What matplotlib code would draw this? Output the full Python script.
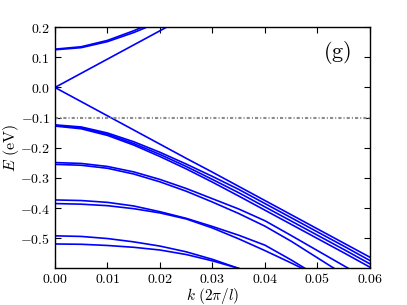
import numpy as np
import matplotlib
matplotlib.use("Agg")
import matplotlib.pyplot as plt
from matplotlib.ticker import FuncFormatter

plt.rcParams['mathtext.fontset'] = 'cm'
plt.rcParams['font.family'] = 'serif'
plt.rcParams['font.serif'] = ['DejaVu Serif']

#### DATA ####
k = [0.0, 0.005, 0.01, 0.015, 0.02, 0.025, 0.03, 0.035, 0.04, 0.045, 0.05, 0.055, 0.06]

# bands above zero
up_lin = [0.0, 0.047, 0.094, 0.141, 0.188, 0.235, 0.281, 0.328, 0.375, 0.422, 0.469, 0.516, 0.563]
up_1 = [0.125, 0.132, 0.152, 0.182, 0.218, 0.258, 0.300, 0.343, 0.388, 0.434, 0.480, 0.527, 0.574]
up_2 = [0.127, 0.135, 0.156, 0.188, 0.225, 0.266, 0.309, 0.354, 0.400, 0.446, 0.492, 0.539, 0.586]

# bands below zero
dn_lin = [0.0, -0.047, -0.094, -0.141, -0.188, -0.235, -0.281, -0.328, -0.375, -0.422, -0.469, -0.516, -0.563]
b_1 = [-0.124, -0.131, -0.151, -0.180, -0.215, -0.254, -0.295, -0.338, -0.385, -0.432, -0.479, -0.526, -0.574]
b_2 = [-0.126, -0.134, -0.155, -0.186, -0.222, -0.262, -0.305, -0.349, -0.396, -0.443, -0.490, -0.537, -0.585]
b_3 = [-0.128, -0.137, -0.159, -0.191, -0.229, -0.270, -0.314, -0.360, -0.407, -0.454, -0.501, -0.548, -0.596]
c_1 = [-0.249, -0.252, -0.262, -0.280, -0.305, -0.335, -0.369, -0.403, -0.442, -0.491, -0.541, -0.591, -0.641]
c_2 = [-0.255, -0.258, -0.268, -0.287, -0.313, -0.344, -0.380, -0.418, -0.460, -0.510, -0.565, -0.620, -0.675]
d_1 = [-0.373, -0.375, -0.381, -0.393, -0.412, -0.434, -0.461, -0.490, -0.523, -0.572, -0.625, -0.678, -0.731]
d_2 = [-0.385, -0.387, -0.392, -0.402, -0.416, -0.436, -0.466, -0.502, -0.541, -0.582, -0.625, -0.670, -0.715]
e_1 = [-0.492, -0.494, -0.501, -0.512, -0.526, -0.545, -0.570, -0.600, -0.635, -0.670, -0.710, -0.750, -0.790]
e_2 = [-0.519, -0.520, -0.524, -0.530, -0.539, -0.554, -0.575, -0.600, -0.630, -0.662, -0.700, -0.740, -0.780]

fermi = -0.1
xticks = [0.0, 0.01, 0.02, 0.03, 0.04, 0.05, 0.06]
yticks = [-0.5, -0.4, -0.3, -0.2, -0.1, 0.0, 0.1, 0.2]

#### PLOT ####
fig = plt.figure(figsize=(4.07, 3.05), dpi=100)
ax = fig.add_axes([0.135, 0.12, 0.774, 0.791])

for band in [up_lin, up_1, up_2, dn_lin, b_1, b_2, b_3, c_1, c_2, d_1, d_2, e_1, e_2]:
    ax.plot(k, band, color='#0000ff', lw=1.2)

ax.axhline(fermi, color='#8c8c8c', lw=1.5, dashes=[1.5, 1.0, 0.5, 1.0])

ax.set_xlim(0, 0.06)
ax.set_ylim(-0.6, 0.2)
ax.set_xticks(xticks)
ax.set_yticks(yticks)
ax.xaxis.set_major_formatter(FuncFormatter(lambda v, p: r'$%.2f$' % v))
ax.yaxis.set_major_formatter(FuncFormatter(lambda v, p: r'$%.1f$' % v))
ax.tick_params(direction='in', top=True, right=True, labelsize=10, length=4, width=0.8)
ax.tick_params(axis='x', pad=2.5)
for s in ax.spines.values():
    s.set_linewidth(1.0)

ax.set_xlabel(r'$k\ (2\pi/l)$', fontsize=11, labelpad=0)
ax.set_ylabel(r'$E\ (\mathrm{eV})$', fontsize=11.5, labelpad=-1)
ax.text(0.897, 0.895, r'$\mathrm{(g)}$', transform=ax.transAxes,
        fontsize=16, ha='center', va='center')

plt.savefig("out.png", dpi=100)
